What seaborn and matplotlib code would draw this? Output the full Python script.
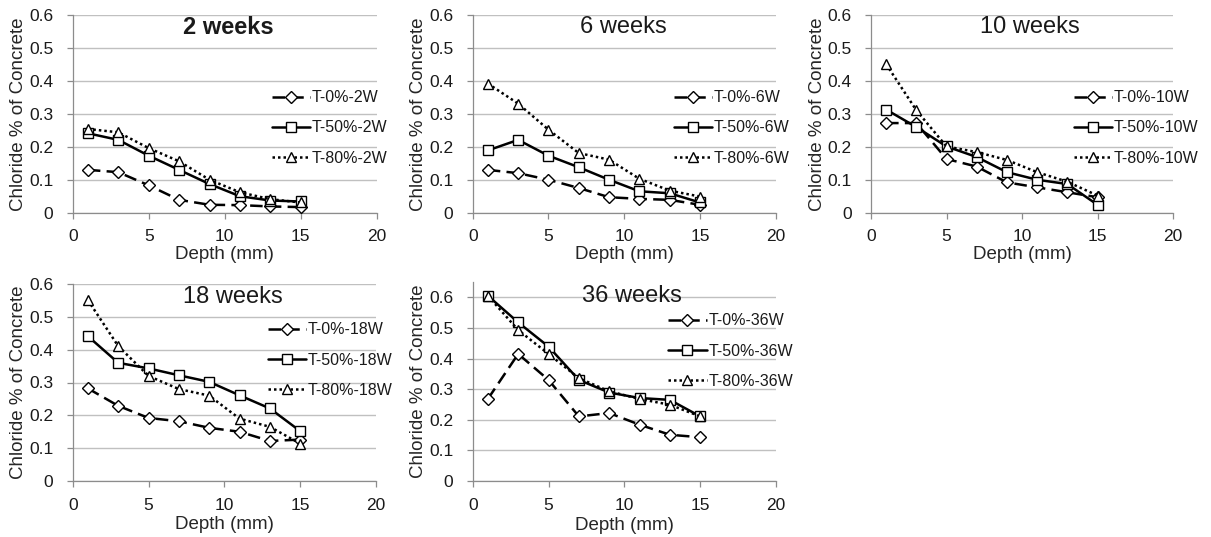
import matplotlib
matplotlib.use('Agg')
import matplotlib.pyplot as plt
import seaborn as sns
import pandas as pd

# datos
depth = [1, 3, 5, 7, 9, 11, 13, 15]

t0_2w = [0.130, 0.123, 0.083, 0.039, 0.024, 0.023, 0.019, 0.017]
t50_2w = [0.241, 0.221, 0.173, 0.130, 0.087, 0.050, 0.037, 0.034]
t80_2w = [0.254, 0.244, 0.196, 0.156, 0.100, 0.062, 0.041, 0.031]

t0_6w = [0.130, 0.120, 0.100, 0.075, 0.047, 0.042, 0.039, 0.024]
t50_6w = [0.189, 0.221, 0.173, 0.138, 0.100, 0.065, 0.059, 0.031]
t80_6w = [0.392, 0.331, 0.252, 0.181, 0.161, 0.103, 0.067, 0.049]

t0_10w = [0.272, 0.272, 0.163, 0.140, 0.092, 0.077, 0.062, 0.047]
t50_10w = [0.313, 0.260, 0.201, 0.169, 0.123, 0.100, 0.087, 0.024]
t80_10w = [0.451, 0.311, 0.201, 0.184, 0.160, 0.123, 0.094, 0.052]

t0_18w = [0.282, 0.229, 0.192, 0.182, 0.162, 0.150, 0.122, 0.126]
t50_18w = [0.441, 0.360, 0.343, 0.322, 0.302, 0.261, 0.221, 0.152]
t80_18w = [0.551, 0.411, 0.320, 0.280, 0.260, 0.190, 0.165, 0.114]

t0_36w = [0.268, 0.415, 0.330, 0.211, 0.222, 0.184, 0.151, 0.143]
t50_36w = [0.605, 0.518, 0.439, 0.330, 0.289, 0.271, 0.265, 0.211]
t80_36w = [0.605, 0.493, 0.415, 0.336, 0.293, 0.268, 0.249, 0.211]

titles = ['2 weeks', '6 weeks', '10 weeks', '18 weeks', '36 weeks']
suffixes = ['2W', '6W', '10W', '18W', '36W']
xticks = [0, 5, 10, 15, 20]
yticks = [0, 0.1, 0.2, 0.3, 0.4, 0.5, 0.6]
ytick_labels = ['0', '0.1', '0.2', '0.3', '0.4', '0.5', '0.6']

series = [
    (t0_2w, t50_2w, t80_2w),
    (t0_6w, t50_6w, t80_6w),
    (t0_10w, t50_10w, t80_10w),
    (t0_18w, t50_18w, t80_18w),
    (t0_36w, t50_36w, t80_36w),
]

# estilo
sns.set_theme(style='white')
plt.rcParams['font.family'] = ['Liberation Sans', 'DejaVu Sans']
plt.rcParams['text.color'] = '#1a1a1a'

W, H = 1211, 537
fig = plt.figure(figsize=(W / 100, H / 100), dpi=100)

# posicion de cada panel en pixeles: x0, x1, y_top, y_bottom
boxes = [
    (72.7, 376.7, 15, 212.7),
    (472.7, 775.7, 15, 212.7),
    (871, 1173, 15, 212.7),
    (72.7, 376, 284, 481),
    (472.7, 776, 282, 481),
]
ymaxes = [0.6, 0.6, 0.6, 0.6, 0.65]
title_pos = [(0.511, 0.939), (0.496, 0.939), (0.526, 0.939), (0.528, 0.934), (0.526, 0.93)]
legend_pos = [(0.656, 0.429), (0.663, 0.429), (0.672, 0.429), (0.644, 0.614), (0.645, 0.653)]
xlabel_y = [-0.168, -0.168, -0.168, -0.18, -0.18]

grey = '#8c8c8c'

for i, (title, suf, vals) in enumerate(zip(titles, suffixes, series)):
    x0, x1, yt, yb = boxes[i]
    ax = fig.add_axes([x0 / W, 1 - yb / H, (x1 - x0) / W, (yb - yt) / H])

    labels = ['T-0%-' + suf, 'T-50%-' + suf, 'T-80%-' + suf]
    df = pd.DataFrame({
        'depth': depth * 3,
        'chloride': vals[0] + vals[1] + vals[2],
        'serie': [labels[0]] * 8 + [labels[1]] * 8 + [labels[2]] * 8,
    })

    sns.lineplot(data=df, x='depth', y='chloride', style='serie', style_order=labels,
                 markers={labels[0]: 'D', labels[1]: 's', labels[2]: '^'},
                 dashes={labels[0]: (5, 2.5), labels[1]: '', labels[2]: (1, 1.2)},
                 color='black', linewidth=1.8, markerfacecolor='white',
                 markeredgecolor='black', markeredgewidth=1.0,
                 legend=False, ax=ax, zorder=3)

    for line, ms in zip(ax.lines[:3], [6.0, 7.0, 6.5]):
        line.set_markersize(ms)

    ax.set_xlim(0, 20)
    ax.set_ylim(0, ymaxes[i])
    ax.set_xticks(xticks)
    ax.set_yticks(yticks)
    ax.set_yticklabels(ytick_labels)

    ax.yaxis.grid(True, color='#c0c0c0', linewidth=1)
    ax.xaxis.grid(False)
    ax.set_axisbelow(True)
    ax.spines[['top', 'right']].set_visible(False)
    for s in ['left', 'bottom']:
        ax.spines[s].set_color(grey)
        ax.spines[s].set_linewidth(0.9)

    ax.tick_params(bottom=True, left=True, direction='out', length=4, width=0.9,
                   color=grey, labelsize=12.5, labelcolor='#1a1a1a')
    ax.tick_params(axis='x', pad=8)
    ax.tick_params(axis='y', pad=10)

    ax.set_xlabel('Depth (mm)', fontsize=13.5)
    ax.set_ylabel('Chloride % of Concrete', fontsize=13.5)
    ax.xaxis.set_label_coords(0.5, xlabel_y[i])
    ax.yaxis.set_label_coords(-0.15, 0.5)

    tx, ty = title_pos[i]
    ax.text(tx, ty, title, transform=ax.transAxes, ha='center', va='center',
            fontsize=17, fontweight='bold' if i == 0 else 'normal')

    lx, ly = legend_pos[i]
    ax.legend(handles=ax.lines[:3], labels=labels, loc='center left',
              bbox_to_anchor=(lx, ly), frameon=False, fontsize=11.5,
              handlelength=2.4, handletextpad=0.1, labelspacing=0.95,
              borderpad=0, borderaxespad=0)

fig.savefig('out.png', dpi=100)
